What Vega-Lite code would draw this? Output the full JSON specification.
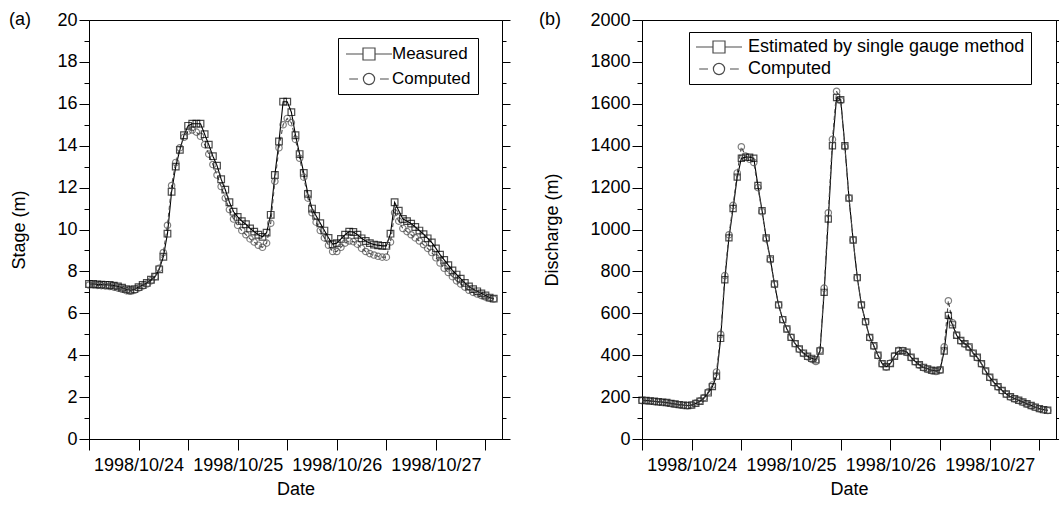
{
  "$schema": "https://vega.github.io/schema/vega-lite/v6.json",
  "background": "white",
  "padding": {"left": 8, "top": 10, "right": 0, "bottom": 0},
  "spacing": 27,
  "config": {
    "font": "Liberation Sans",
    "view": {"stroke": "black", "strokeWidth": 1},
    "axis": {"labelFont": "Liberation Sans", "titleFont": "Liberation Sans", "labelFontSize": 18, "titleFontSize": 18, "titleFontWeight": "normal", "labelColor": "black", "titleColor": "black", "domainColor": "black", "tickColor": "black", "grid": false},
    "legend": {"labelFont": "Liberation Sans", "labelFontSize": 18, "labelColor": "black"}
  },
  "datasets": {
    "stage": [
      {"date":"1998-10-23T12:00","Measured":7.40,"Computed":7.35},
      {"date":"1998-10-23T13:00","Measured":7.40,"Computed":7.35},
      {"date":"1998-10-23T14:00","Measured":7.38,"Computed":7.33},
      {"date":"1998-10-23T15:00","Measured":7.37,"Computed":7.32},
      {"date":"1998-10-23T16:00","Measured":7.36,"Computed":7.30},
      {"date":"1998-10-23T17:00","Measured":7.35,"Computed":7.28},
      {"date":"1998-10-23T18:00","Measured":7.32,"Computed":7.25},
      {"date":"1998-10-23T19:00","Measured":7.28,"Computed":7.20},
      {"date":"1998-10-23T20:00","Measured":7.22,"Computed":7.15},
      {"date":"1998-10-23T21:00","Measured":7.15,"Computed":7.08},
      {"date":"1998-10-23T22:00","Measured":7.10,"Computed":7.05},
      {"date":"1998-10-23T23:00","Measured":7.15,"Computed":7.10},
      {"date":"1998-10-24T00:00","Measured":7.25,"Computed":7.20},
      {"date":"1998-10-24T01:00","Measured":7.35,"Computed":7.30},
      {"date":"1998-10-24T02:00","Measured":7.45,"Computed":7.40},
      {"date":"1998-10-24T03:00","Measured":7.60,"Computed":7.55},
      {"date":"1998-10-24T04:00","Measured":7.75,"Computed":7.75},
      {"date":"1998-10-24T05:00","Measured":8.10,"Computed":8.15},
      {"date":"1998-10-24T06:00","Measured":8.70,"Computed":8.90},
      {"date":"1998-10-24T07:00","Measured":9.80,"Computed":10.20},
      {"date":"1998-10-24T08:00","Measured":11.80,"Computed":12.10},
      {"date":"1998-10-24T09:00","Measured":13.00,"Computed":13.20},
      {"date":"1998-10-24T10:00","Measured":13.80,"Computed":13.90},
      {"date":"1998-10-24T11:00","Measured":14.50,"Computed":14.40},
      {"date":"1998-10-24T12:00","Measured":14.95,"Computed":14.70},
      {"date":"1998-10-24T13:00","Measured":15.05,"Computed":14.75},
      {"date":"1998-10-24T14:00","Measured":15.05,"Computed":14.65},
      {"date":"1998-10-24T15:00","Measured":15.05,"Computed":14.45},
      {"date":"1998-10-24T16:00","Measured":14.55,"Computed":14.05},
      {"date":"1998-10-24T17:00","Measured":14.05,"Computed":13.60},
      {"date":"1998-10-24T18:00","Measured":13.50,"Computed":13.10},
      {"date":"1998-10-24T19:00","Measured":13.05,"Computed":12.60},
      {"date":"1998-10-24T20:00","Measured":12.40,"Computed":12.05},
      {"date":"1998-10-24T21:00","Measured":11.90,"Computed":11.50},
      {"date":"1998-10-24T22:00","Measured":11.30,"Computed":10.95},
      {"date":"1998-10-24T23:00","Measured":10.85,"Computed":10.50},
      {"date":"1998-10-25T00:00","Measured":10.60,"Computed":10.20},
      {"date":"1998-10-25T01:00","Measured":10.40,"Computed":9.95},
      {"date":"1998-10-25T02:00","Measured":10.25,"Computed":9.75},
      {"date":"1998-10-25T03:00","Measured":10.05,"Computed":9.55},
      {"date":"1998-10-25T04:00","Measured":9.90,"Computed":9.40},
      {"date":"1998-10-25T05:00","Measured":9.75,"Computed":9.25},
      {"date":"1998-10-25T06:00","Measured":9.65,"Computed":9.15},
      {"date":"1998-10-25T07:00","Measured":9.85,"Computed":9.35},
      {"date":"1998-10-25T08:00","Measured":10.70,"Computed":10.30},
      {"date":"1998-10-25T09:00","Measured":12.60,"Computed":12.30},
      {"date":"1998-10-25T10:00","Measured":14.20,"Computed":13.90},
      {"date":"1998-10-25T11:00","Measured":16.10,"Computed":15.00},
      {"date":"1998-10-25T12:00","Measured":16.10,"Computed":15.30},
      {"date":"1998-10-25T13:00","Measured":15.60,"Computed":15.10},
      {"date":"1998-10-25T14:00","Measured":14.50,"Computed":14.30},
      {"date":"1998-10-25T15:00","Measured":13.60,"Computed":13.40},
      {"date":"1998-10-25T16:00","Measured":12.70,"Computed":12.50},
      {"date":"1998-10-25T17:00","Measured":11.70,"Computed":11.50},
      {"date":"1998-10-25T18:00","Measured":11.00,"Computed":10.80},
      {"date":"1998-10-25T19:00","Measured":10.65,"Computed":10.35},
      {"date":"1998-10-25T20:00","Measured":10.30,"Computed":9.95},
      {"date":"1998-10-25T21:00","Measured":9.95,"Computed":9.60},
      {"date":"1998-10-25T22:00","Measured":9.60,"Computed":9.25},
      {"date":"1998-10-25T23:00","Measured":9.30,"Computed":8.95},
      {"date":"1998-10-26T00:00","Measured":9.35,"Computed":8.95},
      {"date":"1998-10-26T01:00","Measured":9.55,"Computed":9.15},
      {"date":"1998-10-26T02:00","Measured":9.75,"Computed":9.35},
      {"date":"1998-10-26T03:00","Measured":9.90,"Computed":9.45},
      {"date":"1998-10-26T04:00","Measured":9.88,"Computed":9.42},
      {"date":"1998-10-26T05:00","Measured":9.75,"Computed":9.30},
      {"date":"1998-10-26T06:00","Measured":9.58,"Computed":9.10},
      {"date":"1998-10-26T07:00","Measured":9.45,"Computed":8.95},
      {"date":"1998-10-26T08:00","Measured":9.35,"Computed":8.85},
      {"date":"1998-10-26T09:00","Measured":9.28,"Computed":8.78},
      {"date":"1998-10-26T10:00","Measured":9.25,"Computed":8.72},
      {"date":"1998-10-26T11:00","Measured":9.22,"Computed":8.68},
      {"date":"1998-10-26T12:00","Measured":9.22,"Computed":8.68},
      {"date":"1998-10-26T13:00","Measured":9.80,"Computed":9.40},
      {"date":"1998-10-26T14:00","Measured":11.30,"Computed":10.80},
      {"date":"1998-10-26T15:00","Measured":10.90,"Computed":10.40},
      {"date":"1998-10-26T16:00","Measured":10.50,"Computed":10.05},
      {"date":"1998-10-26T17:00","Measured":10.40,"Computed":9.90},
      {"date":"1998-10-26T18:00","Measured":10.28,"Computed":9.75},
      {"date":"1998-10-26T19:00","Measured":10.12,"Computed":9.60},
      {"date":"1998-10-26T20:00","Measured":9.95,"Computed":9.45},
      {"date":"1998-10-26T21:00","Measured":9.78,"Computed":9.28},
      {"date":"1998-10-26T22:00","Measured":9.58,"Computed":9.10},
      {"date":"1998-10-26T23:00","Measured":9.38,"Computed":8.90},
      {"date":"1998-10-27T00:00","Measured":9.10,"Computed":8.65},
      {"date":"1998-10-27T01:00","Measured":8.80,"Computed":8.40},
      {"date":"1998-10-27T02:00","Measured":8.55,"Computed":8.15},
      {"date":"1998-10-27T03:00","Measured":8.30,"Computed":7.95},
      {"date":"1998-10-27T04:00","Measured":8.05,"Computed":7.75},
      {"date":"1998-10-27T05:00","Measured":7.85,"Computed":7.55},
      {"date":"1998-10-27T06:00","Measured":7.65,"Computed":7.40},
      {"date":"1998-10-27T07:00","Measured":7.45,"Computed":7.25},
      {"date":"1998-10-27T08:00","Measured":7.28,"Computed":7.10},
      {"date":"1998-10-27T09:00","Measured":7.15,"Computed":7.00},
      {"date":"1998-10-27T10:00","Measured":7.05,"Computed":6.92},
      {"date":"1998-10-27T11:00","Measured":6.95,"Computed":6.85},
      {"date":"1998-10-27T12:00","Measured":6.85,"Computed":6.78},
      {"date":"1998-10-27T13:00","Measured":6.75,"Computed":6.72},
      {"date":"1998-10-27T14:00","Measured":6.70,"Computed":6.68}
    ],
    "discharge": [
      {"date":"1998-10-23T12:00","Estimated by single gauge method":185,"Computed":183},
      {"date":"1998-10-23T13:00","Estimated by single gauge method":184,"Computed":182},
      {"date":"1998-10-23T14:00","Estimated by single gauge method":182,"Computed":180},
      {"date":"1998-10-23T15:00","Estimated by single gauge method":180,"Computed":178},
      {"date":"1998-10-23T16:00","Estimated by single gauge method":178,"Computed":176},
      {"date":"1998-10-23T17:00","Estimated by single gauge method":176,"Computed":174},
      {"date":"1998-10-23T18:00","Estimated by single gauge method":174,"Computed":172},
      {"date":"1998-10-23T19:00","Estimated by single gauge method":170,"Computed":169},
      {"date":"1998-10-23T20:00","Estimated by single gauge method":167,"Computed":166},
      {"date":"1998-10-23T21:00","Estimated by single gauge method":164,"Computed":163},
      {"date":"1998-10-23T22:00","Estimated by single gauge method":162,"Computed":160},
      {"date":"1998-10-23T23:00","Estimated by single gauge method":160,"Computed":159},
      {"date":"1998-10-24T00:00","Estimated by single gauge method":162,"Computed":162},
      {"date":"1998-10-24T01:00","Estimated by single gauge method":170,"Computed":171},
      {"date":"1998-10-24T02:00","Estimated by single gauge method":180,"Computed":182},
      {"date":"1998-10-24T03:00","Estimated by single gauge method":195,"Computed":198},
      {"date":"1998-10-24T04:00","Estimated by single gauge method":220,"Computed":225},
      {"date":"1998-10-24T05:00","Estimated by single gauge method":250,"Computed":258},
      {"date":"1998-10-24T06:00","Estimated by single gauge method":300,"Computed":320},
      {"date":"1998-10-24T07:00","Estimated by single gauge method":480,"Computed":500},
      {"date":"1998-10-24T08:00","Estimated by single gauge method":760,"Computed":780},
      {"date":"1998-10-24T09:00","Estimated by single gauge method":960,"Computed":975},
      {"date":"1998-10-24T10:00","Estimated by single gauge method":1100,"Computed":1115},
      {"date":"1998-10-24T11:00","Estimated by single gauge method":1250,"Computed":1270},
      {"date":"1998-10-24T12:00","Estimated by single gauge method":1340,"Computed":1395},
      {"date":"1998-10-24T13:00","Estimated by single gauge method":1345,"Computed":1350},
      {"date":"1998-10-24T14:00","Estimated by single gauge method":1345,"Computed":1335},
      {"date":"1998-10-24T15:00","Estimated by single gauge method":1340,"Computed":1320},
      {"date":"1998-10-24T16:00","Estimated by single gauge method":1210,"Computed":1200},
      {"date":"1998-10-24T17:00","Estimated by single gauge method":1090,"Computed":1085},
      {"date":"1998-10-24T18:00","Estimated by single gauge method":960,"Computed":955},
      {"date":"1998-10-24T19:00","Estimated by single gauge method":860,"Computed":855},
      {"date":"1998-10-24T20:00","Estimated by single gauge method":740,"Computed":738},
      {"date":"1998-10-24T21:00","Estimated by single gauge method":640,"Computed":640},
      {"date":"1998-10-24T22:00","Estimated by single gauge method":570,"Computed":570},
      {"date":"1998-10-24T23:00","Estimated by single gauge method":525,"Computed":525},
      {"date":"1998-10-25T00:00","Estimated by single gauge method":485,"Computed":485},
      {"date":"1998-10-25T01:00","Estimated by single gauge method":455,"Computed":455},
      {"date":"1998-10-25T02:00","Estimated by single gauge method":430,"Computed":428},
      {"date":"1998-10-25T03:00","Estimated by single gauge method":410,"Computed":408},
      {"date":"1998-10-25T04:00","Estimated by single gauge method":395,"Computed":392},
      {"date":"1998-10-25T05:00","Estimated by single gauge method":385,"Computed":380},
      {"date":"1998-10-25T06:00","Estimated by single gauge method":378,"Computed":370},
      {"date":"1998-10-25T07:00","Estimated by single gauge method":420,"Computed":425},
      {"date":"1998-10-25T08:00","Estimated by single gauge method":700,"Computed":720},
      {"date":"1998-10-25T09:00","Estimated by single gauge method":1050,"Computed":1080},
      {"date":"1998-10-25T10:00","Estimated by single gauge method":1400,"Computed":1430},
      {"date":"1998-10-25T11:00","Estimated by single gauge method":1630,"Computed":1660},
      {"date":"1998-10-25T12:00","Estimated by single gauge method":1620,"Computed":1615},
      {"date":"1998-10-25T13:00","Estimated by single gauge method":1400,"Computed":1395},
      {"date":"1998-10-25T14:00","Estimated by single gauge method":1150,"Computed":1150},
      {"date":"1998-10-25T15:00","Estimated by single gauge method":950,"Computed":950},
      {"date":"1998-10-25T16:00","Estimated by single gauge method":770,"Computed":770},
      {"date":"1998-10-25T17:00","Estimated by single gauge method":640,"Computed":640},
      {"date":"1998-10-25T18:00","Estimated by single gauge method":560,"Computed":558},
      {"date":"1998-10-25T19:00","Estimated by single gauge method":485,"Computed":483},
      {"date":"1998-10-25T20:00","Estimated by single gauge method":445,"Computed":442},
      {"date":"1998-10-25T21:00","Estimated by single gauge method":400,"Computed":398},
      {"date":"1998-10-25T22:00","Estimated by single gauge method":360,"Computed":358},
      {"date":"1998-10-25T23:00","Estimated by single gauge method":345,"Computed":343},
      {"date":"1998-10-26T00:00","Estimated by single gauge method":360,"Computed":362},
      {"date":"1998-10-26T01:00","Estimated by single gauge method":395,"Computed":398},
      {"date":"1998-10-26T02:00","Estimated by single gauge method":420,"Computed":423},
      {"date":"1998-10-26T03:00","Estimated by single gauge method":422,"Computed":422},
      {"date":"1998-10-26T04:00","Estimated by single gauge method":415,"Computed":413},
      {"date":"1998-10-26T05:00","Estimated by single gauge method":390,"Computed":388},
      {"date":"1998-10-26T06:00","Estimated by single gauge method":370,"Computed":368},
      {"date":"1998-10-26T07:00","Estimated by single gauge method":355,"Computed":352},
      {"date":"1998-10-26T08:00","Estimated by single gauge method":342,"Computed":340},
      {"date":"1998-10-26T09:00","Estimated by single gauge method":335,"Computed":332},
      {"date":"1998-10-26T10:00","Estimated by single gauge method":328,"Computed":325},
      {"date":"1998-10-26T11:00","Estimated by single gauge method":325,"Computed":322},
      {"date":"1998-10-26T12:00","Estimated by single gauge method":330,"Computed":328},
      {"date":"1998-10-26T13:00","Estimated by single gauge method":420,"Computed":440},
      {"date":"1998-10-26T14:00","Estimated by single gauge method":590,"Computed":660},
      {"date":"1998-10-26T15:00","Estimated by single gauge method":545,"Computed":555},
      {"date":"1998-10-26T16:00","Estimated by single gauge method":495,"Computed":495},
      {"date":"1998-10-26T17:00","Estimated by single gauge method":470,"Computed":468},
      {"date":"1998-10-26T18:00","Estimated by single gauge method":455,"Computed":452},
      {"date":"1998-10-26T19:00","Estimated by single gauge method":440,"Computed":437},
      {"date":"1998-10-26T20:00","Estimated by single gauge method":410,"Computed":408},
      {"date":"1998-10-26T21:00","Estimated by single gauge method":390,"Computed":388},
      {"date":"1998-10-26T22:00","Estimated by single gauge method":360,"Computed":358},
      {"date":"1998-10-26T23:00","Estimated by single gauge method":325,"Computed":323},
      {"date":"1998-10-27T00:00","Estimated by single gauge method":295,"Computed":293},
      {"date":"1998-10-27T01:00","Estimated by single gauge method":270,"Computed":268},
      {"date":"1998-10-27T02:00","Estimated by single gauge method":250,"Computed":248},
      {"date":"1998-10-27T03:00","Estimated by single gauge method":232,"Computed":230},
      {"date":"1998-10-27T04:00","Estimated by single gauge method":215,"Computed":213},
      {"date":"1998-10-27T05:00","Estimated by single gauge method":202,"Computed":200},
      {"date":"1998-10-27T06:00","Estimated by single gauge method":193,"Computed":191},
      {"date":"1998-10-27T07:00","Estimated by single gauge method":185,"Computed":183},
      {"date":"1998-10-27T08:00","Estimated by single gauge method":177,"Computed":175},
      {"date":"1998-10-27T09:00","Estimated by single gauge method":168,"Computed":166},
      {"date":"1998-10-27T10:00","Estimated by single gauge method":160,"Computed":158},
      {"date":"1998-10-27T11:00","Estimated by single gauge method":152,"Computed":151},
      {"date":"1998-10-27T12:00","Estimated by single gauge method":145,"Computed":144},
      {"date":"1998-10-27T13:00","Estimated by single gauge method":140,"Computed":139},
      {"date":"1998-10-27T14:00","Estimated by single gauge method":137,"Computed":136}
    ]
  },
  "hconcat": [
    {
      "width": 413,
      "height": 419,
      "data": {"name": "stage"},
      "transform": [{"fold": ["Measured", "Computed"], "as": ["series", "value"]}],
      "resolve": {"scale": {"shape": "independent"}},
      "layer": [
        {
          "mark": {"type": "line", "strokeWidth": 1.1},
          "encoding": {
            "x": {"field": "date", "type": "temporal",
              "scale": {"domain": [{"year":1998,"month":"October","date":23,"hours":12},{"year":1998,"month":"October","date":27,"hours":16}]},
              "axis": {"title": "Date", "values": [{"year":1998,"month":"October","date":23,"hours":12},{"year":1998,"month":"October","date":24,"hours":0},{"year":1998,"month":"October","date":24,"hours":12},{"year":1998,"month":"October","date":25,"hours":0},{"year":1998,"month":"October","date":25,"hours":12},{"year":1998,"month":"October","date":26,"hours":0},{"year":1998,"month":"October","date":26,"hours":12},{"year":1998,"month":"October","date":27,"hours":0},{"year":1998,"month":"October","date":27,"hours":12}],
                "labelExpr": "hours(datum.value) === 0 ? timeFormat(datum.value, '%Y/%m/%d') : ''", "tickSize": 11, "labelPadding": 6, "titlePadding": 6, "labelFlush": false, "labelOverlap": false}},
            "y": {"field": "value", "type": "quantitative", "scale": {"domain": [0, 20], "nice": false},
              "axis": {"title": "Stage (m)", "values": [0,1,2,3,4,5,6,7,8,9,10,11,12,13,14,15,16,17,18,19,20], "labelExpr": "datum.value % 2 === 0 ? datum.label : ''", "tickSize": {"condition": {"test": "datum.value % 2 === 0", "value": 10}, "value": 5}, "labelPadding": 2, "titlePadding": 28, "orient": "left"}},
            "color": {"field": "series", "type": "nominal", "scale": {"domain": ["Measured", "Computed"], "range": ["#000000", "#4a4a4a"]}, "legend": null},
            "strokeDash": {"field": "series", "type": "nominal", "scale": {"domain": ["Measured", "Computed"], "range": [[1, 0], [4, 3]]}, "legend": null}
          }
        },
        {
          "mark": {"type": "point", "filled": false, "strokeWidth": 1.2},
          "encoding": {
            "x": {"field": "date", "type": "temporal"},
            "y": {"field": "value", "type": "quantitative",
              "axis": {"orient": "right", "title": null, "labels": false, "values": [0,1,2,3,4,5,6,7,8,9,10,11,12,13,14,15,16,17,18,19,20], "tickSize": {"condition": {"test": "datum.value % 2 === 0", "value": 8}, "value": 4}}},
            "color": {"field": "series", "type": "nominal", "legend": null},
            "shape": {"field": "series", "type": "nominal", "scale": {"domain": ["Measured", "Computed"], "range": ["square", "circle"]}, "legend": null},
            "size": {"field": "series", "type": "nominal", "scale": {"domain": ["Measured", "Computed"], "range": [44, 38]}, "legend": null}
          }
        },
        {
          "transform": [{"filter": "false"}],
          "mark": {"type": "point", "filled": false, "color": "black", "strokeWidth": 1},
          "encoding": {
            "shape": {"field": "series", "type": "nominal",
              "scale": {"domain": ["Measured", "Computed"], "range": ["M-1,0H1.125M2.625,0H4.75M1.125,-0.75H2.625V0.75H1.125Z", "M-0.6,0H0.5M3.25,0H4.35M1.175,0A0.7,0.7 0 1,0 2.575,0A0.7,0.7 0 1,0 1.175,0"]},
              "legend": {"title": null, "orient": "none", "legendX": 249, "legendY": 18, "strokeColor": "black", "fillColor": "white", "padding": 7, "symbolSize": 256, "symbolStrokeColor": "black", "symbolStrokeWidth": 1.2, "symbolFillColor": "transparent", "labelOffset": 29, "rowPadding": 7, "labelLimit": 400, "labelFontSize": 17}}
          }
        },
        {
          "data": {"values": [{"label": "(a)"}]},
          "mark": {"type": "text", "align": "left", "baseline": "middle", "dx": -80, "fontSize": 18, "font": "Liberation Sans", "color": "black"},
          "encoding": {
            "x": {"datum": {"year":1998,"month":"October","date":23,"hours":12}, "type": "temporal"},
            "y": {"datum": 20, "type": "quantitative", "axis": null},
            "text": {"field": "label"}
          }
        }
      ]
    },
    {
      "width": 414,
      "height": 419,
      "data": {"name": "discharge"},
      "transform": [{"fold": ["Estimated by single gauge method", "Computed"], "as": ["series", "value"]}],
      "resolve": {"scale": {"shape": "independent"}},
      "layer": [
        {
          "mark": {"type": "line", "strokeWidth": 1.1},
          "encoding": {
            "x": {"field": "date", "type": "temporal",
              "scale": {"domain": [{"year":1998,"month":"October","date":23,"hours":12},{"year":1998,"month":"October","date":27,"hours":16}]},
              "axis": {"title": "Date", "values": [{"year":1998,"month":"October","date":23,"hours":12},{"year":1998,"month":"October","date":24,"hours":0},{"year":1998,"month":"October","date":24,"hours":12},{"year":1998,"month":"October","date":25,"hours":0},{"year":1998,"month":"October","date":25,"hours":12},{"year":1998,"month":"October","date":26,"hours":0},{"year":1998,"month":"October","date":26,"hours":12},{"year":1998,"month":"October","date":27,"hours":0},{"year":1998,"month":"October","date":27,"hours":12}],
                "labelExpr": "hours(datum.value) === 0 ? timeFormat(datum.value, '%Y/%m/%d') : ''", "tickSize": 11, "labelPadding": 6, "titlePadding": 6, "labelFlush": false, "labelOverlap": false}},
            "y": {"field": "value", "type": "quantitative", "scale": {"domain": [0, 2000], "nice": false},
              "axis": {"title": "Discharge (m)", "values": [0,100,200,300,400,500,600,700,800,900,1000,1100,1200,1300,1400,1500,1600,1700,1800,1900,2000], "labelExpr": "datum.value % 200 === 0 ? datum.label : ''", "format": "d", "tickSize": {"condition": {"test": "datum.value % 200 === 0", "value": 10}, "value": 5}, "labelPadding": 2, "titlePadding": 28, "orient": "left"}},
            "color": {"field": "series", "type": "nominal", "scale": {"domain": ["Estimated by single gauge method", "Computed"], "range": ["#000000", "#4a4a4a"]}, "legend": null},
            "strokeDash": {"field": "series", "type": "nominal", "scale": {"domain": ["Estimated by single gauge method", "Computed"], "range": [[1, 0], [4, 3]]}, "legend": null}
          }
        },
        {
          "mark": {"type": "point", "filled": false, "strokeWidth": 1.2},
          "encoding": {
            "x": {"field": "date", "type": "temporal"},
            "y": {"field": "value", "type": "quantitative",
              "axis": {"orient": "right", "title": null, "labels": false, "values": [0,100,200,300,400,500,600,700,800,900,1000,1100,1200,1300,1400,1500,1600,1700,1800,1900,2000], "tickSize": {"condition": {"test": "datum.value % 200 === 0", "value": 8}, "value": 4}}},
            "color": {"field": "series", "type": "nominal", "legend": null},
            "shape": {"field": "series", "type": "nominal", "scale": {"domain": ["Estimated by single gauge method", "Computed"], "range": ["square", "circle"]}, "legend": null},
            "size": {"field": "series", "type": "nominal", "scale": {"domain": ["Estimated by single gauge method", "Computed"], "range": [44, 38]}, "legend": null}
          }
        },
        {
          "transform": [{"filter": "false"}],
          "mark": {"type": "point", "filled": false, "color": "black", "strokeWidth": 1},
          "encoding": {
            "shape": {"field": "series", "type": "nominal",
              "scale": {"domain": ["Estimated by single gauge method", "Computed"], "range": ["M-1,0H1.125M2.625,0H4.75M1.125,-0.75H2.625V0.75H1.125Z", "M-0.6,0H0.5M3.25,0H4.35M1.175,0A0.7,0.7 0 1,0 2.575,0A0.7,0.7 0 1,0 1.175,0"]},
              "legend": {"title": null, "orient": "none", "legendX": 47, "legendY": 12, "strokeColor": "black", "fillColor": "white", "padding": 6, "symbolSize": 256, "symbolStrokeColor": "black", "symbolStrokeWidth": 1.2, "symbolFillColor": "transparent", "labelOffset": 35, "rowPadding": 4, "labelLimit": 400}}
          }
        },
        {
          "data": {"values": [{"label": "(b)"}]},
          "mark": {"type": "text", "align": "left", "baseline": "middle", "dx": -103, "fontSize": 18, "font": "Liberation Sans", "color": "black"},
          "encoding": {
            "x": {"datum": {"year":1998,"month":"October","date":23,"hours":12}, "type": "temporal"},
            "y": {"datum": 2000, "type": "quantitative", "axis": null},
            "text": {"field": "label"}
          }
        }
      ]
    }
  ]
}
